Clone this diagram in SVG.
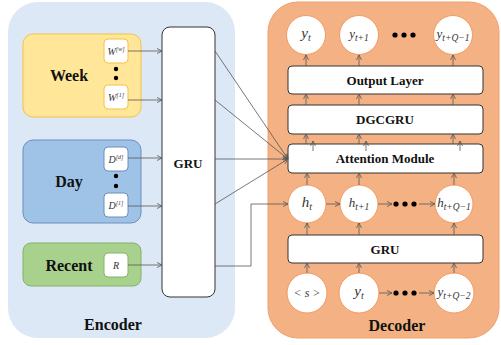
<svg xmlns="http://www.w3.org/2000/svg" width="501" height="345" viewBox="0 0 501 345">
<style>
.lbl{font-family:"Liberation Serif","Times New Roman",serif;font-weight:bold;fill:#111;text-anchor:middle}
.big{font-size:16px}
.mid{font-size:13px}
.math{font-family:"Liberation Serif","Times New Roman",serif;font-style:italic;fill:#333;text-anchor:middle}
.conn{stroke:#555;stroke-width:0.8;fill:none}
.box{fill:#fff;stroke:#333;stroke-width:1}
.circ{fill:#fff;stroke:#f39a60;stroke-width:1}
.inbox{fill:#fff;stroke-width:1}
.dot{fill:#000}
</style>
<defs>
<marker id="ar" viewBox="0 0 6 6" refX="5.5" refY="3" markerWidth="6" markerHeight="6" markerUnits="userSpaceOnUse" orient="auto">
<path d="M0.5,0.5 L5.5,3 L0.5,5.5" fill="none" stroke="#555" stroke-width="0.8"/>
</marker>
</defs>

<g id="encoder">
<rect x="8" y="2" width="227" height="336" rx="30" fill="#dce8f5"/>
<text class="lbl big" x="113" y="330">Encoder</text>
</g>
<g id="decoder">
<rect x="268" y="2" width="231" height="336" rx="30" fill="#f4b183" stroke="#f0a070"/>
<text class="lbl big" x="397" y="331">Decoder</text>
</g>

<g id="week">
<rect x="23" y="34" width="118" height="83" rx="10" fill="#ffe699" stroke="#f5c242"/>
<text class="lbl big" x="69" y="81">Week</text>
<rect class="inbox" x="104" y="39" width="24" height="24" rx="4" stroke="#f5c242"/>
<text class="math" x="116" y="55" font-size="10">W<tspan font-size="6" dy="-4">[w]</tspan></text>
<circle class="dot" cx="116" cy="69" r="2.2"/>
<circle class="dot" cx="116" cy="78" r="2.2"/>
<rect class="inbox" x="104" y="85" width="24" height="24" rx="4" stroke="#f5c242"/>
<text class="math" x="116" y="101" font-size="10">W<tspan font-size="6" dy="-4">[1]</tspan></text>
</g>

<g id="day">
<rect x="23" y="140" width="118" height="83" rx="10" fill="#9fc3e7" stroke="#6c8ebf"/>
<text class="lbl big" x="69" y="187">Day</text>
<rect class="inbox" x="104" y="147" width="24" height="24" rx="4" stroke="#6c8ebf"/>
<text class="math" x="116" y="163" font-size="10">D<tspan font-size="6" dy="-4">[d]</tspan></text>
<circle class="dot" cx="116" cy="176" r="2.2"/>
<circle class="dot" cx="116" cy="186" r="2.2"/>
<rect class="inbox" x="104" y="193" width="24" height="24" rx="4" stroke="#6c8ebf"/>
<text class="math" x="116" y="209" font-size="10">D<tspan font-size="6" dy="-4">[1]</tspan></text>
</g>

<g id="recent">
<rect x="23" y="243" width="118" height="43" rx="8" fill="#a9d18e" stroke="#82b366"/>
<text class="lbl big" x="69" y="271">Recent</text>
<rect class="inbox" x="104" y="253" width="24" height="24" rx="4" stroke="#82b366"/>
<text class="math" x="116" y="269" font-size="10">R</text>
</g>

<g id="enc-gru">
<rect class="box" x="162" y="27" width="53" height="270" rx="8"/>
<text class="lbl mid" x="188" y="168">GRU</text>
</g>

<g id="out-y">
<circle class="circ" cx="306" cy="35" r="19.5"/>
<text class="math" x="306" y="38" font-size="15">y<tspan font-size="10" dy="3">t</tspan></text>
<circle class="circ" cx="359" cy="35" r="19.5"/>
<text class="math" x="359" y="38" font-size="13">y<tspan font-size="9.5" dy="2.5">t+1</tspan></text>
<circle class="dot" cx="395" cy="35" r="2.6"/>
<circle class="dot" cx="404" cy="35" r="2.6"/>
<circle class="dot" cx="413" cy="35" r="2.6"/>
<circle class="circ" cx="453" cy="35" r="19.5"/>
<text class="math" x="453" y="38" font-size="13">y<tspan font-size="9.5" dy="2.5">t+Q−1</tspan></text>
</g>

<g id="output-layer">
<rect class="box" x="288" y="66" width="195" height="28" rx="4"/>
<text class="lbl mid" x="385" y="85">Output Layer</text>
</g>
<g id="dgcgru">
<rect class="box" x="288" y="105" width="195" height="29" rx="4"/>
<text class="lbl mid" x="385" y="124">DGCGRU</text>
</g>
<g id="attention">
<rect class="box" x="288" y="144" width="195" height="29" rx="4"/>
<text class="lbl mid" x="385" y="163">Attention Module</text>
</g>

<g id="hidden">
<circle class="circ" cx="307" cy="204" r="19"/>
<text class="math" x="307" y="207" font-size="15">h<tspan font-size="10" dy="3">t</tspan></text>
<circle class="circ" cx="359" cy="204" r="19"/>
<text class="math" x="359" y="207" font-size="13">h<tspan font-size="9.5" dy="2.5">t+1</tspan></text>
<circle class="dot" cx="396" cy="204" r="2.6"/>
<circle class="dot" cx="405" cy="204" r="2.6"/>
<circle class="dot" cx="414" cy="204" r="2.6"/>
<circle class="circ" cx="454" cy="204" r="19"/>
<text class="math" x="454" y="207" font-size="13">h<tspan font-size="9.5" dy="2.5">t+Q−1</tspan></text>
</g>

<g id="dec-gru">
<rect class="box" x="288" y="235" width="195" height="28" rx="4"/>
<text class="lbl mid" x="385" y="254">GRU</text>
</g>

<g id="inputs">
<circle class="circ" cx="307" cy="293" r="20"/>
<text class="math" x="307" y="297" font-size="12">&lt; s &gt;</text>
<circle class="circ" cx="359" cy="293" r="20"/>
<text class="math" x="359" y="296" font-size="15">y<tspan font-size="10" dy="3">t</tspan></text>
<circle class="dot" cx="396" cy="293" r="2.6"/>
<circle class="dot" cx="405" cy="293" r="2.6"/>
<circle class="dot" cx="414" cy="293" r="2.6"/>
<circle class="circ" cx="454" cy="293" r="20"/>
<text class="math" x="454" y="296" font-size="13">y<tspan font-size="9.5" dy="2.5">t+Q−2</tspan></text>
</g>

<g id="connectors" class="conn" marker-end="url(#ar)">
<line x1="128" y1="51" x2="162" y2="51"/>
<line x1="128" y1="100" x2="162" y2="100"/>
<line x1="128" y1="158" x2="162" y2="158"/>
<line x1="128" y1="206" x2="162" y2="206"/>
<line x1="128" y1="265" x2="162" y2="265"/>
<line x1="215" y1="51" x2="288" y2="159"/>
<line x1="215" y1="100" x2="288" y2="159"/>
<line x1="215" y1="159" x2="288" y2="159"/>
<line x1="215" y1="204" x2="288" y2="159"/>
<polyline points="215,266 251,266 251,204 288,204"/>
<line x1="306" y1="66" x2="306" y2="55"/>
<line x1="359" y1="66" x2="359" y2="55"/>
<line x1="453" y1="66" x2="453" y2="55"/>
<line x1="306" y1="105" x2="306" y2="94"/>
<line x1="359" y1="105" x2="359" y2="94"/>
<line x1="453" y1="105" x2="453" y2="94"/>
<line x1="306" y1="144" x2="306" y2="134"/>
<line x1="359" y1="144" x2="359" y2="134"/>
<line x1="453" y1="144" x2="453" y2="134"/>
<line x1="313" y1="151" x2="313" y2="141"/>
<line x1="366" y1="151" x2="366" y2="141"/>
<line x1="460" y1="151" x2="460" y2="141"/>
<line x1="307" y1="185" x2="307" y2="173"/>
<line x1="359" y1="185" x2="359" y2="173"/>
<line x1="454" y1="185" x2="454" y2="173"/>
<line x1="307" y1="235" x2="307" y2="223"/>
<line x1="359" y1="235" x2="359" y2="223"/>
<line x1="454" y1="235" x2="454" y2="223"/>
<line x1="307" y1="273" x2="307" y2="263"/>
<line x1="359" y1="273" x2="359" y2="263"/>
<line x1="454" y1="273" x2="454" y2="263"/>
<line x1="326" y1="204" x2="340" y2="204"/>
<line x1="378" y1="204" x2="392" y2="204"/>
<line x1="419" y1="204" x2="435" y2="204"/>
<line x1="379" y1="293" x2="392" y2="293"/>
<line x1="419" y1="293" x2="434" y2="293"/>
</g>
</svg>
